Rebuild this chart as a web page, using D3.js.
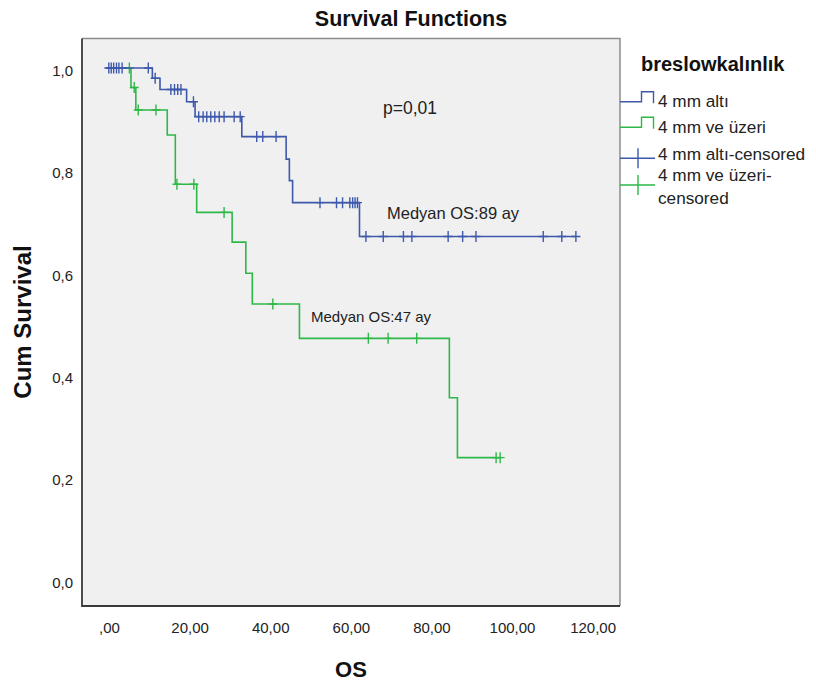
<!DOCTYPE html>
<html><head><meta charset="utf-8">
<script src="https://cdn.jsdelivr.net/npm/d3@7/dist/d3.min.js"></script>
<style>
body{margin:0;background:#fff;}
text{font-family:"Liberation Sans",Arial,sans-serif;}
</style></head>
<body>
<svg id="c" width="816" height="682"></svg>
<script>
// ---- data ----
const xTickValues = [0, 20, 40, 60, 80, 100, 120];
const xTickLabels = [",00", "20,00", "40,00", "60,00", "80,00", "100,00", "120,00"];
const yTickValues = [0, 0.2, 0.4, 0.6, 0.8, 1.0];
const yTickLabels = ["0,0", "0,2", "0,4", "0,6", "0,8", "1,0"];

// 4 mm altı (blue): event times and survival after each step
const blueEventTimes = [11.5, 13.4, 20.0, 22.1, 33.7, 44.7, 45.5, 46.3, 62.9];
const blueSurvival   = [0.980, 0.958, 0.934, 0.905, 0.866, 0.822, 0.780, 0.737, 0.671];
const blueCensored   = [0.7, 1.3, 1.9, 2.6, 3.2, 4.0, 10.5, 12.2, 16.1, 17.0, 17.8, 18.6, 21.7,
                        23.0, 24.1, 25.0, 26.0, 27.0, 28.1, 29.3, 31.8, 33.3, 37.4, 38.9, 42.2,
                        53.1, 57.2, 58.7, 60.5, 61.2, 61.8, 62.4, 64.5, 68.8, 73.8, 75.9, 84.9,
                        88.5, 91.8, 108.5, 113.1, 116.6];
// 4 mm ve üzeri (green)
const greenEventTimes = [6.2, 7.4, 15.2, 17.2, 22.5, 31.3, 34.7, 36.3, 48.0, 85.2, 87.2];
const greenSurvival   = [0.962, 0.918, 0.869, 0.773, 0.718, 0.660, 0.599, 0.539, 0.472, 0.356, 0.239];
const greenCensored   = [5.8, 7.0, 8.0, 12.4, 17.6, 21.8, 29.3, 41.4, 65.1, 70.0, 77.1, 96.8, 97.8];

const seriesNames = ["4 mm altı", "4 mm ve üzeri"];
const colors = ["#3e58ac", "#2eb848"];

// ---- layout ----
const svg = d3.select("#c");
const frame = {left: 82, right: 620, top: 38.5, bottom: 606};
const x = d3.scaleLinear().domain([0, 120]).range([106, 589.6]);
const y = d3.scaleLinear().domain([0, 1]).range([580, 68]);

svg.append("rect").attr("x", frame.left).attr("y", frame.top)
  .attr("width", frame.right - frame.left).attr("height", frame.bottom - frame.top)
  .attr("fill", "#f0f0f0");

function survAt(times, surv, t) {
  let s = 1;
  for (let i = 0; i < times.length; i++) if (times[i] <= t) s = surv[i];
  return s;
}

function drawSeries(times, surv, cens, color) {
  const pts = [{t: 0, s: 1}];
  times.forEach((t, i) => pts.push({t: t, s: surv[i]}));
  const end = Math.max(times[times.length - 1], d3.max(cens));
  pts.push({t: end, s: surv[surv.length - 1]});
  const line = d3.line().x(d => x(d.t)).y(d => y(d.s)).curve(d3.curveStepAfter);
  svg.append("path").datum(pts).attr("d", line)
    .attr("fill", "none").attr("stroke", color).attr("stroke-width", 1.6);
  svg.append("g").selectAll("path").data(cens).join("path")
    .attr("transform", d => `translate(${x(d)},${y(survAt(times, surv, d))})`)
    .attr("d", "M-4.5,0H4.5M0,-5.5V5.5")
    .attr("stroke", color).attr("stroke-width", 1.4).attr("fill", "none");
}
drawSeries(greenEventTimes, greenSurvival, greenCensored, colors[1]);
drawSeries(blueEventTimes, blueSurvival, blueCensored, colors[0]);

// frame borders
svg.append("path").attr("d", `M${frame.left},${frame.top}H${frame.right}V${frame.bottom}`)
  .attr("fill", "none").attr("stroke", "#8c8c8c").attr("stroke-width", 1.5);
svg.append("path").attr("d", `M${frame.left},${frame.top}V${frame.bottom}H${frame.right}`)
  .attr("fill", "none").attr("stroke", "#3a3a3a").attr("stroke-width", 1.8);

// axes
const xAxis = svg.append("g").attr("transform", `translate(0,${frame.bottom})`)
  .call(d3.axisBottom(x).tickValues(xTickValues).tickSize(0).tickPadding(16)
    .tickFormat((d, i) => xTickLabels[i]));
xAxis.select(".domain").remove();
xAxis.selectAll("text").attr("font-size", 15).attr("fill", "#222").attr("dx", 3)
  .style("font-family", "'Liberation Sans',Arial,sans-serif");

const yAxis = svg.append("g").attr("transform", `translate(${frame.left},0)`)
  .call(d3.axisLeft(y).tickValues(yTickValues).tickSize(0).tickPadding(9)
    .tickFormat((d, i) => yTickLabels[i]));
yAxis.select(".domain").remove();
yAxis.selectAll("text").attr("font-size", 15).attr("fill", "#222").attr("dy", "0.48em")
  .style("font-family", "'Liberation Sans',Arial,sans-serif");

// titles
svg.append("text").attr("x", 411).attr("y", 26).attr("text-anchor", "middle")
  .attr("font-size", 21.5).attr("font-weight", "bold").attr("fill", "#111").text("Survival Functions");
svg.append("text").attr("transform", "translate(31,322) rotate(-90)").attr("text-anchor", "middle")
  .attr("font-size", 24).attr("font-weight", "bold").attr("fill", "#111").text("Cum Survival");
svg.append("text").attr("x", 351).attr("y", 677).attr("text-anchor", "middle")
  .attr("font-size", 22).attr("font-weight", "bold").attr("fill", "#111").text("OS");

// annotations
svg.append("text").attr("x", 383).attr("y", 114).attr("font-size", 17.5).attr("fill", "#222").text("p=0,01");
svg.append("text").attr("x", 387).attr("y", 219).attr("font-size", 16.5).attr("fill", "#222").text("Medyan OS:89 ay");
svg.append("text").attr("x", 311).attr("y", 322).attr("font-size", 15).attr("fill", "#222").text("Medyan OS:47 ay");

// legend
const lg = svg.append("g");
lg.append("text").attr("x", 641).attr("y", 70.5).attr("font-size", 20).attr("font-weight", "bold")
  .attr("fill", "#111").text("breslowkalınlık");
function stepSym(yLow, color) {
  lg.append("path").attr("d", `M620,${yLow}H641.5V${yLow - 10}H653.5V${yLow + 1.5}`)
    .attr("fill", "none").attr("stroke", color).attr("stroke-width", 1.4);
}
function crossSym(yc, color) {
  lg.append("path").attr("d", `M620,${yc}H655M638,${yc - 10}V${yc + 10}`)
    .attr("fill", "none").attr("stroke", color).attr("stroke-width", 1.4);
}
stepSym(101.7, colors[0]);
stepSym(127.3, colors[1]);
crossSym(158.3, colors[0]);
crossSym(185, colors[1]);
const legendLabels = [
  {t: seriesNames[0], y: 106.5},
  {t: seriesNames[1], y: 132.5},
  {t: seriesNames[0] + "-censored", y: 159.5},
  {t: seriesNames[1] + "-", y: 181},
  {t: "censored", y: 204}
];
lg.selectAll("text.li").data(legendLabels).join("text").attr("class", "li")
  .attr("x", 658).attr("y", d => d.y).attr("font-size", 17.2).attr("fill", "#222").text(d => d.t);
</script>
</body></html>
